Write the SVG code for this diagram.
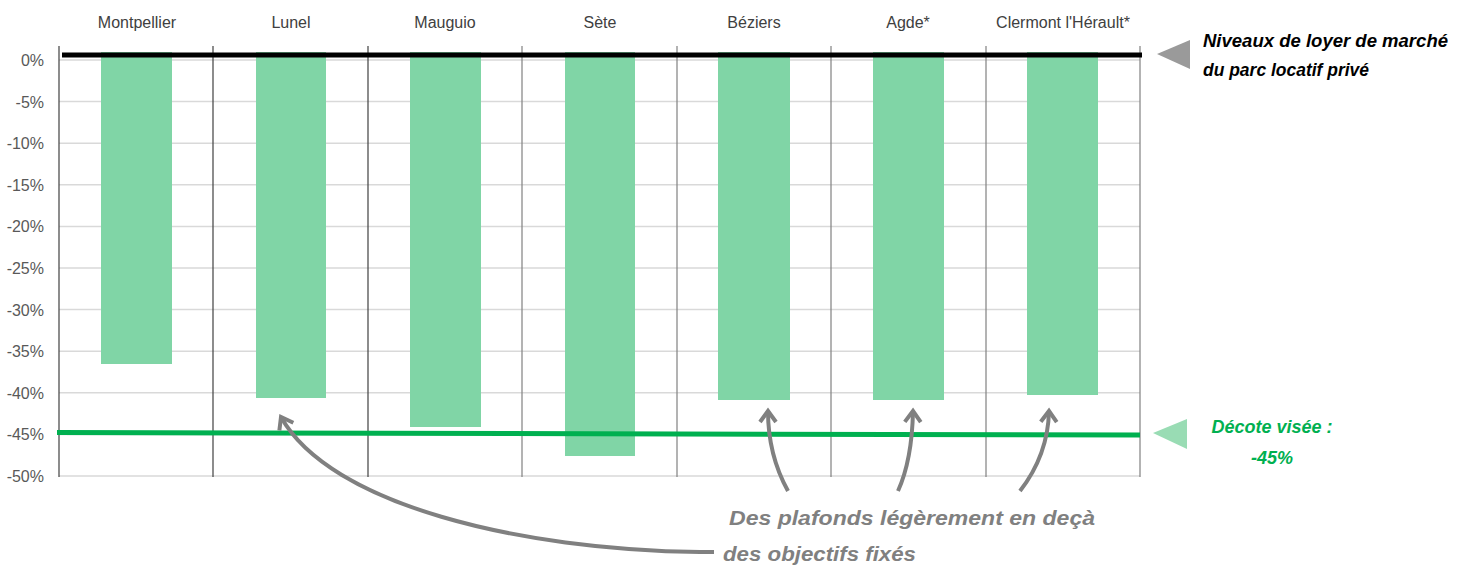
<svg xmlns="http://www.w3.org/2000/svg" width="1465" height="566" viewBox="0 0 1465 566">
<style>
.grid{stroke:#d9d9d9;stroke-width:1.5}
.vdark{stroke:#404040;stroke-width:1.2}
.vlight{stroke:#808080;stroke-width:1.2}
.bar{fill:#80d5a6}
.tick{font-family:"Liberation Sans",Arial,sans-serif;font-size:16px;fill:#595959;text-anchor:end}
.cat{font-family:"Liberation Sans",Arial,sans-serif;font-size:16px;fill:#404040;text-anchor:middle}
.note{font-family:"Liberation Sans",Arial,sans-serif;font-weight:bold;font-style:italic}
.conn{fill:none;stroke:#808080;stroke-width:4;stroke-linecap:butt}
</style>
<defs>
<marker id="chev" markerUnits="userSpaceOnUse" markerWidth="30" markerHeight="30" viewBox="-15 -15 30 30" refX="0" refY="0" orient="auto">
<path d="M-11,-8 L0,0 L-11,8" fill="none" stroke="#808080" stroke-width="4" stroke-linejoin="miter"/>
</marker>
</defs>
<rect width="1465" height="566" fill="#ffffff"/>
<g id="grid">
<line class="grid" x1="59" y1="60" x2="1140" y2="60"/>
<line class="grid" x1="59" y1="101.6" x2="1140" y2="101.6"/>
<line class="grid" x1="59" y1="143.2" x2="1140" y2="143.2"/>
<line class="grid" x1="59" y1="184.8" x2="1140" y2="184.8"/>
<line class="grid" x1="59" y1="226.4" x2="1140" y2="226.4"/>
<line class="grid" x1="59" y1="268" x2="1140" y2="268"/>
<line class="grid" x1="59" y1="309.6" x2="1140" y2="309.6"/>
<line class="grid" x1="59" y1="351.2" x2="1140" y2="351.2"/>
<line class="grid" x1="59" y1="392.8" x2="1140" y2="392.8"/>
<line class="grid" x1="59" y1="434.4" x2="1140" y2="434.4"/>
<line class="grid" x1="59" y1="476" x2="1140" y2="476"/>
<line class="vdark" x1="59" y1="46" x2="59" y2="477"/>
<line class="vdark" x1="213" y1="46" x2="213" y2="477"/>
<line class="vdark" x1="368" y1="46" x2="368" y2="477"/>
<line class="vlight" x1="522" y1="46" x2="522" y2="477"/>
<line class="vlight" x1="677" y1="46" x2="677" y2="477"/>
<line class="vlight" x1="831" y1="46" x2="831" y2="477"/>
<line class="vlight" x1="986" y1="46" x2="986" y2="477"/>
<line class="vlight" x1="1140" y1="46" x2="1140" y2="477"/>
</g>
<g id="axis-labels">
<text class="tick" x="44" y="66">0%</text>
<text class="tick" x="44" y="107.6">-5%</text>
<text class="tick" x="44" y="149.2">-10%</text>
<text class="tick" x="44" y="190.8">-15%</text>
<text class="tick" x="44" y="232.4">-20%</text>
<text class="tick" x="44" y="274">-25%</text>
<text class="tick" x="44" y="315.6">-30%</text>
<text class="tick" x="44" y="357.2">-35%</text>
<text class="tick" x="44" y="398.8">-40%</text>
<text class="tick" x="44" y="440.4">-45%</text>
<text class="tick" x="44" y="482">-50%</text>
</g>
<g id="bar-montpellier"><rect class="bar" x="101" y="52" width="71" height="312"/><text class="cat" x="137" y="28">Montpellier</text></g>
<g id="bar-lunel"><rect class="bar" x="256" y="52" width="70" height="346"/><text class="cat" x="291" y="28">Lunel</text></g>
<g id="bar-mauguio"><rect class="bar" x="410" y="52" width="71" height="375"/><text class="cat" x="445" y="28">Mauguio</text></g>
<g id="bar-sete"><rect class="bar" x="565" y="52" width="70" height="404"/><text class="cat" x="600" y="28">Sète</text></g>
<g id="bar-beziers"><rect class="bar" x="718" y="52" width="72" height="348"/><text class="cat" x="754" y="28">Béziers</text></g>
<g id="bar-agde"><rect class="bar" x="873" y="52" width="71" height="348"/><text class="cat" x="908" y="28">Agde*</text></g>
<g id="bar-clermont"><rect class="bar" x="1027" y="52" width="71" height="343"/><text class="cat" x="1063" y="28">Clermont l'Hérault*</text></g>
<g id="market-line">
<line x1="62" y1="55" x2="1142" y2="55" stroke="#000000" stroke-width="5"/>
<polygon points="1157,54 1190,40 1190,69" fill="#9a9a9a"/>
<text class="note" x="1203" y="47" font-size="18" fill="#000000" textLength="245" lengthAdjust="spacingAndGlyphs">Niveaux de loyer de marché</text>
<text class="note" x="1203" y="76" font-size="18" fill="#000000" textLength="166" lengthAdjust="spacingAndGlyphs">du parc locatif privé</text>
</g>
<g id="target-line">
<line x1="57" y1="432.5" x2="1140" y2="435" stroke="#00b050" stroke-width="5"/>
<polygon points="1153,433 1187,419 1187,449" fill="#99dcb4"/>
<text class="note" x="1272" y="433" font-size="18" fill="#00b050" text-anchor="middle">Décote visée :</text>
<text class="note" x="1272" y="464" font-size="18" fill="#00b050" text-anchor="middle">-45%</text>
</g>
<g id="connectors">
<path class="conn" d="M714,552 L700,552 C520,550 330,505 281,417" marker-end="url(#chev)"/>
<path class="conn" d="M788,491 Q768,455 768,411" marker-end="url(#chev)"/>
<path class="conn" d="M898,491 Q912,460 913,411" marker-end="url(#chev)"/>
<path class="conn" d="M1020,491 Q1048,455 1049,411" marker-end="url(#chev)"/>
</g>
<g id="callout">
<text class="note" x="729" y="525" font-size="21" fill="#808080" textLength="366" lengthAdjust="spacingAndGlyphs">Des plafonds légèrement en deçà</text>
<text class="note" x="723" y="561" font-size="21" fill="#808080" textLength="193" lengthAdjust="spacingAndGlyphs">des objectifs fixés</text>
</g>
</svg>
